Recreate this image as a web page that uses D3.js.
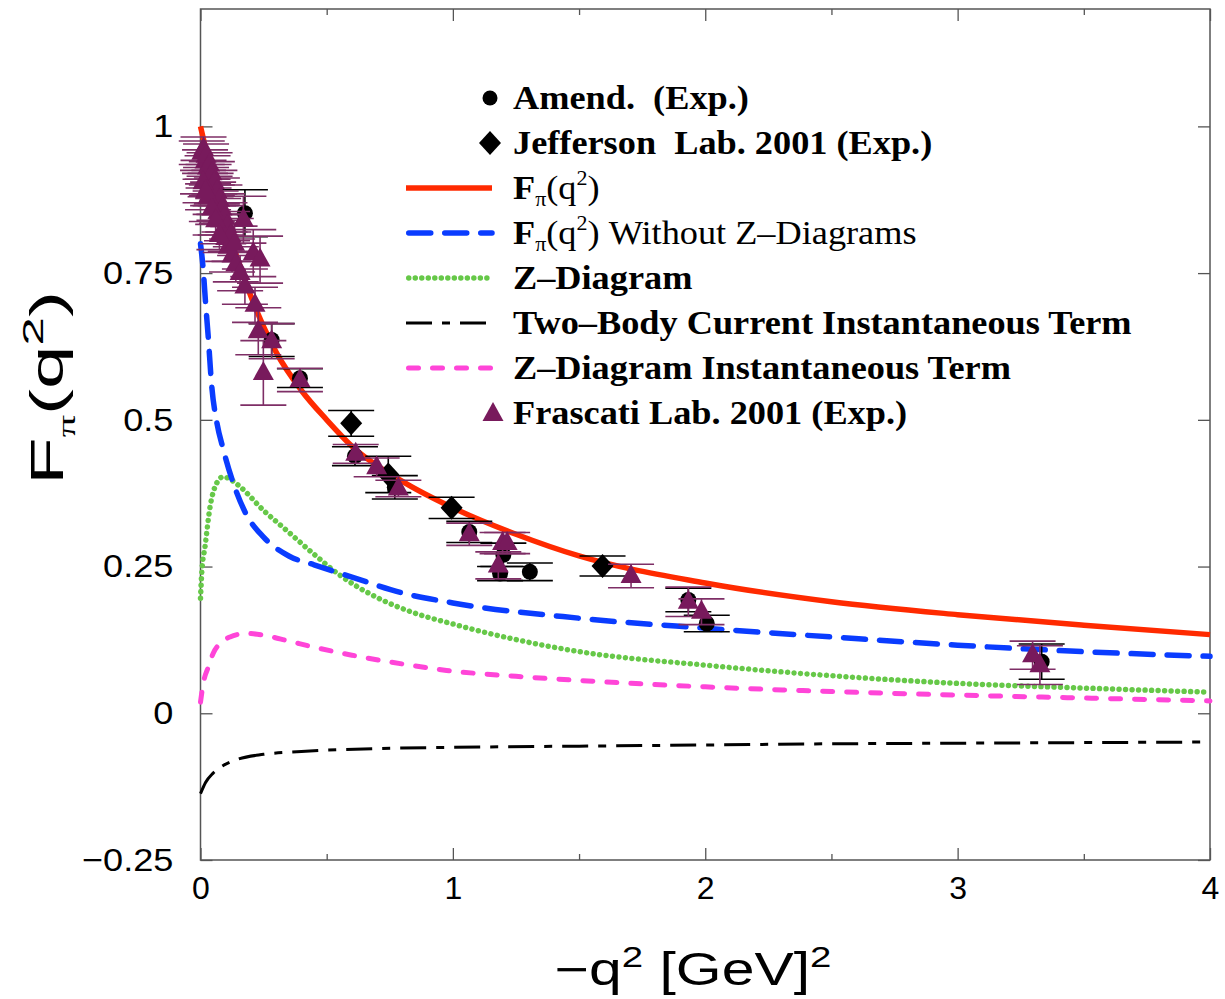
<!DOCTYPE html>
<html>
<head>
<meta charset="utf-8">
<script src="https://cdn.jsdelivr.net/npm/d3@7/dist/d3.min.js"></script>
<style>
body { margin: 0; background: #fff; }
text { fill: #000; }
</style>
</head>
<body>
<svg width="1225" height="999"></svg>
<script>
// model curves
var fullX = [0, 0.05, 0.1, 0.15, 0.2, 0.3, 0.4, 0.5, 0.6, 0.8, 1.0, 1.25, 1.5, 2.0, 2.5, 3.0, 3.5, 4.0];
var fullY = [1.0, 0.91, 0.835, 0.77, 0.71, 0.615, 0.55, 0.50, 0.455, 0.395, 0.35, 0.305, 0.268, 0.222, 0.19, 0.168, 0.15, 0.134];

var noZX = [0, 0.01, 0.02, 0.03, 0.045, 0.065, 0.09, 0.13, 0.18, 0.25, 0.35, 0.45, 0.6, 0.8, 1.0, 1.5, 2.0, 2.5, 3.0, 3.5, 4.0];
var noZY = [0.80, 0.76, 0.70, 0.645, 0.555, 0.495, 0.45, 0.392, 0.34, 0.30, 0.268, 0.253, 0.232, 0.205, 0.188, 0.162, 0.145, 0.13, 0.116, 0.105, 0.097];

var zX = [0, 0.005, 0.018, 0.038, 0.064, 0.09, 0.12, 0.157, 0.249, 0.34, 0.447, 0.55, 0.71, 0.84, 1.0, 1.5, 2.0, 2.5, 3.0, 3.5, 4.0];
var zY = [0.196, 0.24, 0.284, 0.352, 0.392, 0.403, 0.398, 0.386, 0.346, 0.312, 0.272, 0.236, 0.195, 0.172, 0.152, 0.105, 0.082, 0.064, 0.051, 0.043, 0.036];

var twoBodyX = [0, 0.02, 0.05, 0.09, 0.15, 0.25, 0.4, 0.71, 1.0, 1.5, 2.0, 2.5, 3.0, 3.5, 4.0];
var twoBodyY = [-0.137, -0.118, -0.102, -0.089, -0.078, -0.070, -0.065, -0.060, -0.058, -0.056, -0.054, -0.052, -0.051, -0.050, -0.049];

var zInstX = [0, 0.011, 0.031, 0.05, 0.08, 0.117, 0.183, 0.25, 0.35, 0.446, 0.6, 0.8, 0.975, 1.25, 1.5, 2.0, 2.5, 3.0, 3.5, 4.0];
var zInstY = [0.019, 0.051, 0.079, 0.102, 0.12, 0.13, 0.136, 0.133, 0.123, 0.113, 0.099, 0.084, 0.073, 0.063, 0.056, 0.045, 0.037, 0.031, 0.026, 0.021];

// experimental points
var amendX   = [0.176, 0.282, 0.394, 0.612, 0.77, 1.065, 1.187, 1.2, 1.305, 1.933, 2.006, 3.333];
var amendY   = [0.852, 0.636, 0.571, 0.438, 0.385, 0.309, 0.238, 0.27, 0.241, 0.193, 0.153, 0.088];
var amendErr = [0.04, 0.028, 0.016, 0.016, 0.02, 0.018, 0.012, 0.02, 0.015, 0.02, 0.014, 0.03];

var jlabX   = [0.597, 0.744, 0.995, 1.593];
var jlabY   = [0.494, 0.407, 0.350, 0.251];
var jlabErr = [0.022, 0.031, 0.018, 0.017];

// low q^2 cluster first, then the isolated triangles
var frasX = [0.005, 0.012, 0.018, 0.022, 0.028, 0.032, 0.036, 0.040, 0.045, 0.050, 0.055, 0.060, 0.065, 0.070,
             0.075, 0.080, 0.085, 0.090, 0.095, 0.100, 0.105, 0.110, 0.120, 0.125, 0.135, 0.140, 0.030, 0.045,
             0.060, 0.075, 0.010, 0.020, 0.157, 0.176, 0.170, 0.209, 0.236, 0.216, 0.229, 0.282, 0.249, 0.394,
             0.615, 0.698, 0.784, 1.065, 1.18, 1.197, 1.215, 1.706, 1.933, 1.985, 3.297, 3.326];
var frasY = [0.955, 0.962, 0.940, 0.950, 0.930, 0.915, 0.935, 0.900, 0.920, 0.885, 0.905, 0.870, 0.890, 0.855,
             0.875, 0.840, 0.860, 0.825, 0.845, 0.810, 0.830, 0.795, 0.815, 0.780, 0.800, 0.765, 0.880, 0.860,
             0.840, 0.815, 0.905, 0.890, 0.750, 0.727, 0.841, 0.784, 0.773, 0.696, 0.651, 0.634, 0.580, 0.568,
             0.442, 0.419, 0.383, 0.305, 0.252, 0.290, 0.290, 0.234, 0.190, 0.173, 0.099, 0.082];
var frasErr = [0.02, 0.02, 0.02, 0.02, 0.02, 0.02, 0.02, 0.02, 0.02, 0.02, 0.02, 0.02, 0.022, 0.022,
               0.025, 0.025, 0.025, 0.025, 0.025, 0.025, 0.025, 0.025, 0.028, 0.028, 0.03, 0.03, 0.022, 0.022,
               0.025, 0.025, 0.02, 0.02, 0.03, 0.03, 0.04, 0.04, 0.04, 0.03, 0.04, 0.03, 0.055, 0.02,
               0.016, 0.016, 0.014, 0.019, 0.023, 0.018, 0.018, 0.02, 0.025, 0.022, 0.024, 0.033];

var xTicks = [0, 1, 2, 3, 4];
var xMinor = [0.5, 1.5, 2.5, 3.5];
var yTicks = [-0.25, 0, 0.25, 0.5, 0.75, 1];

var svg = d3.select("svg"),
    width = +svg.attr("width"),
    height = +svg.attr("height");

var x = d3.scaleLinear().domain([0, 4]).range([200.5, 1210]);
var y = d3.scaleLinear().domain([-0.25, 1.2]).range([860, 9]);

var frameColor = "#555";
var sans = "'Liberation Sans', Arial, sans-serif";

// axes (ticks pointing inward)
function styleAxis(g) {
    g.select(".domain").remove();
    g.selectAll(".tick line").attr("stroke", frameColor).attr("stroke-width", 1.3);
    g.selectAll(".tick text").attr("font-family", sans).attr("font-size", 32);
}

svg.append("g")
    .attr("transform", "translate(0,860)")
    .call(d3.axisBottom(x).tickValues(xTicks).tickSize(-12).tickPadding(16).tickFormat(d3.format("d")))
    .call(styleAxis);
svg.append("g")
    .attr("transform", "translate(0,860)")
    .call(d3.axisBottom(x).tickValues(xMinor).tickSize(-6).tickFormat(""))
    .call(styleAxis);
svg.append("g")
    .attr("transform", "translate(0,9)")
    .call(d3.axisTop(x).tickValues(xTicks).tickSize(-12).tickFormat(""))
    .call(styleAxis);
svg.append("g")
    .attr("transform", "translate(0,9)")
    .call(d3.axisTop(x).tickValues(xMinor).tickSize(-6).tickFormat(""))
    .call(styleAxis);
svg.append("g")
    .attr("transform", "translate(200.5,0)")
    .call(d3.axisLeft(y).tickValues(yTicks).tickSize(-12).tickPadding(24)
        .tickFormat(function(d) { return String(d).replace("-", "\u2212"); }))
    .call(styleAxis)
    .selectAll(".tick text")
    .attr("transform", "scale(1.13,1)");
svg.append("g")
    .attr("transform", "translate(1210,0)")
    .call(d3.axisRight(y).tickValues(yTicks).tickSize(-12).tickFormat(""))
    .call(styleAxis);

svg.append("rect")
    .attr("x", 200.5).attr("y", 9)
    .attr("width", 1210 - 200.5).attr("height", 860 - 9)
    .attr("fill", "none").attr("stroke", frameColor).attr("stroke-width", 1.5);

// axis titles
svg.append("text")
    .attr("transform", "translate(693,985) scale(1.28,1)")
    .attr("text-anchor", "middle")
    .attr("font-family", sans)
    .attr("font-size", 46)
    .html('\u2212q<tspan dy="-18" font-size="30">2</tspan><tspan dy="18"> [GeV]</tspan><tspan dy="-18" font-size="30">2</tspan>');

svg.append("text")
    .attr("transform", "translate(63,388) rotate(-90) scale(1.7,1)")
    .attr("text-anchor", "middle")
    .attr("font-family", sans)
    .attr("font-size", 46)
    .html('F<tspan dy="12" font-size="26" font-family="\'Liberation Serif\', serif">\u03c0</tspan><tspan dy="-12">(q</tspan><tspan dy="-20" font-size="30">2</tspan><tspan dy="20">)</tspan>');

// curves
var series = [
    {xs: zInstX, ys: zInstY, color: "#ff45d8", width: 5, dash: "10 14", cap: "round"},
    {xs: twoBodyX, ys: twoBodyY, color: "#000", width: 3, dash: "26 10 8 10", cap: "butt"},
    {xs: zX, ys: zY, color: "#66c848", width: 5.5, dash: "0.01 6.5", cap: "round"},
    {xs: noZX, ys: noZY, color: "#0a3cff", width: 5.5, dash: "22 14", cap: "round"},
    {xs: fullX, ys: fullY, color: "#ff2a00", width: 5.5, dash: null, cap: "butt"}
];

var line = d3.line()
    .x(function(d) { return x(d[0]); })
    .y(function(d) { return y(d[1]); })
    .curve(d3.curveMonotoneX);

series.forEach(function(s) {
    svg.append("path")
        .datum(d3.zip(s.xs, s.ys))
        .attr("d", line)
        .attr("fill", "none")
        .attr("stroke", s.color)
        .attr("stroke-width", s.width)
        .attr("stroke-linecap", s.cap)
        .attr("stroke-dasharray", s.dash);
});

// points with error bars
var capHalf = 23;

function errorBars(xs, ys, es, color) {
    var g = svg.append("g").attr("stroke", color).attr("stroke-width", 1.6).attr("fill", "none");
    var pts = d3.zip(xs, ys, es);
    g.selectAll("line.v").data(pts).enter().append("line")
        .attr("x1", function(d) { return x(d[0]); })
        .attr("x2", function(d) { return x(d[0]); })
        .attr("y1", function(d) { return y(d[1] - d[2]); })
        .attr("y2", function(d) { return y(d[1] + d[2]); });
    [-1, 1].forEach(function(sgn) {
        g.selectAll("line.c" + sgn).data(pts).enter().append("line")
            .attr("x1", function(d) { return x(d[0]) - capHalf; })
            .attr("x2", function(d) { return x(d[0]) + capHalf; })
            .attr("y1", function(d) { return y(d[1] + sgn * d[2]); })
            .attr("y2", function(d) { return y(d[1] + sgn * d[2]); });
    });
}

var diamondPath = "M0,-12L11,0L0,12L-11,0Z";
var trianglePath = "M0,-12L10.5,7L-10.5,7Z";
var purple = "#781a5c";

errorBars(amendX, amendY, amendErr, "#000");
svg.append("g").selectAll("circle").data(d3.zip(amendX, amendY)).enter().append("circle")
    .attr("cx", function(d) { return x(d[0]); })
    .attr("cy", function(d) { return y(d[1]); })
    .attr("r", 8)
    .attr("fill", "#000");

errorBars(jlabX, jlabY, jlabErr, "#000");
svg.append("g").selectAll("path").data(d3.zip(jlabX, jlabY)).enter().append("path")
    .attr("d", diamondPath)
    .attr("transform", function(d) { return "translate(" + x(d[0]) + "," + y(d[1]) + ")"; })
    .attr("fill", "#000");

errorBars(frasX, frasY, frasErr, "#7e2e66");
svg.append("g").selectAll("path").data(d3.zip(frasX, frasY)).enter().append("path")
    .attr("d", trianglePath)
    .attr("transform", function(d) { return "translate(" + x(d[0]) + "," + y(d[1]) + ")"; })
    .attr("fill", purple);

// legend
var legendRows = [98, 143, 188, 233, 278, 323, 368, 413];
var lx0 = 406, lx1 = 492, tx = 513;
var serif = "'Liberation Serif', 'Times New Roman', serif";

var leg = svg.append("g");

leg.append("circle").attr("cx", 490).attr("cy", legendRows[0]).attr("r", 7.5).attr("fill", "#000");
leg.append("path").attr("d", diamondPath).attr("transform", "translate(490," + legendRows[1] + ")").attr("fill", "#000");
leg.append("path").attr("d", trianglePath).attr("transform", "translate(493," + (legendRows[7] + 1) + ")").attr("fill", purple);

[[2, 4], [3, 3], [4, 2], [5, 1], [6, 0]].forEach(function(p) {
    var s = series[p[1]];
    leg.append("line")
        .attr("x1", lx0 + (s.cap === "round" ? s.width / 2 : 0))
        .attr("x2", lx1)
        .attr("y1", legendRows[p[0]]).attr("y2", legendRows[p[0]])
        .attr("stroke", s.color)
        .attr("stroke-width", s.width)
        .attr("stroke-linecap", s.cap)
        .attr("stroke-dasharray", s.dash);
});

var fq = 'F<tspan font-weight="normal" font-size="20" dy="7">\u03c0</tspan><tspan font-weight="normal" dy="-7">(q</tspan><tspan font-weight="normal" font-size="20" dy="-14">2</tspan><tspan font-weight="normal" dy="14">)</tspan>';
var legendText = [
    "Amend.\u00a0 (Exp.)",
    "Jefferson\u00a0 Lab. 2001 (Exp.)",
    fq,
    fq + '<tspan font-weight="normal"> Without Z\u2013Diagrams</tspan>',
    "Z\u2013Diagram",
    "Two\u2013Body Current Instantaneous Term",
    "Z\u2013Diagram Instantaneous Term",
    "Frascati Lab. 2001 (Exp.)"
];

legendText.forEach(function(t, i) {
    leg.append("text")
        .attr("transform", "translate(" + tx + "," + (legendRows[i] + 11) + ") scale(1.1,1)")
        .attr("font-family", serif)
        .attr("font-weight", "bold")
        .attr("font-size", 33)
        .html(t);
});
</script>
</body>
</html>
